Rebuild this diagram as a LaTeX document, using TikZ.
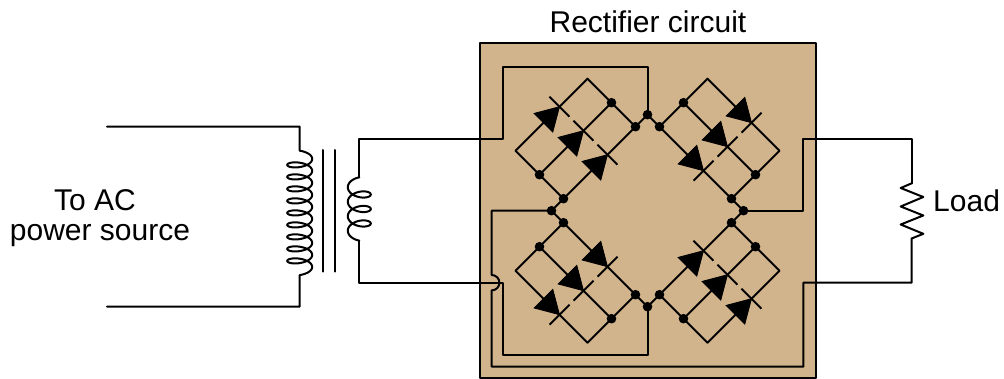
\documentclass[tikz,border=0pt]{standalone}
\usepackage{fontspec}
\setmainfont{Liberation Sans}
\definecolor{boardtan}{HTML}{D2B48C}
\tikzset{
  wire/.style={line width=2pt,line cap=round,line join=round},
  jdot/.style={circle,fill=black,inner sep=0pt,minimum size=9.6pt},
  lbl/.style={font=\fontsize{30}{30}\selectfont,inner sep=0pt}
}
% one set of three parallel diodes: name, start x,y, then the two axes
\newcommand{\diodeset}[7]{%
  \begin{scope}[shift={(#2,#3)},x={(#4pt,#5pt)},y={(#6pt,#7pt)}]
    \node[jdot] (#1a) at (0,0) {};
    \node[jdot] (#1b) at (72,0) {};
    \node[jdot] (#1c) at (0,24) {};
    \node[jdot] (#1d) at (72,24) {};
    \coordinate (#1e) at (0,48);
    \coordinate (#1f) at (72,48);
    \draw[wire] (#1a.center) -- (#1b.center);
    \draw[wire] (#1c.center) -- (#1d.center);
    \draw[wire] (#1e) -- (#1f);
    \draw[wire] (#1a.center) -- (#1e);
    \draw[wire] (#1b.center) -- (#1f);
    \foreach \j in {0,24,48} {%
      \fill[draw=black,line width=0.8pt,line join=miter] (44,\j) -- (28,\j+9.3) -- (28,\j-9.3) -- cycle;
      \draw[wire,line cap=butt] (44,\j-10) -- (44,\j+10);
    }
  \end{scope}
}
\begin{document}
\begin{tikzpicture}[x=1pt,y=-1pt]
  \useasboundingbox (0,0) rectangle (1004,379);
  \draw[wire,fill=boardtan] (479.5,43) rectangle (816,378);
  \node[lbl] (title) at (648,22) {Rectifier circuit};
  \node[lbl,anchor=base] (srclblA) at (95,211) {To AC};
  \node[lbl,anchor=base] (srclblB) at (100,241) {power source};
  \node[lbl,anchor=west] (loadlbl) at (933,201) {Load};
  % the four sets
  \diodeset{tl}{563.5}{198.7}{1}{1}{-1}{1}
  \diodeset{tr}{659.5}{126.7}{1}{-1}{1}{1}
  \diodeset{bl}{563.5}{222.7}{1}{-1}{-1}{-1}
  \diodeset{br}{659.5}{294.7}{1}{1}{1}{-1}
  % outer junctions
  \node[jdot] (top) at (647.5,114.7) {};
  \node[jdot] (left) at (551.5,210.7) {};
  \node[jdot] (right) at (743.5,210.7) {};
  \node[jdot] (bot) at (647.5,306.7) {};
  \draw[wire] (tlb.center) -- (top.center) -- (tra.center);
  \draw[wire] (tla.center) -- (left.center) -- (bla.center);
  \draw[wire] (trb.center) -- (right.center) -- (brb.center);
  \draw[wire] (blb.center) -- (bot.center) -- (bra.center);
  % free ends
  \coordinate (srcA) at (107,126.7);
  \coordinate (srcB) at (107,306.7);
  \coordinate (priA) at (299.7,150.7);
  \coordinate (priB) at (299.7,275.1);
  \coordinate (secA) at (359.3,177.3);
  \coordinate (secB) at (359.3,240.7);
  \coordinate (loadA) at (911.7,183.3);
  \coordinate (loadB) at (911.7,238.5);
  % transformer
  \draw[wire] (srcA) -| (priA)
    plot[domain=-90:3330,samples=420] ({299.7+12.5*cos(\x)},{150.7+(\x+90)/360*12+5.2*(sin(\x)+1)})
    -- (priB) |- (srcB);
  \draw[wire] (323.3,150) -- (323.3,271.7);
  \draw[wire] (335.3,150) -- (335.3,271.7);
  \draw[wire]
    plot[domain=-90:1170,samples=160] ({359.3-11.5*cos(\x)},{177.3+(\x+90)/360*14.5+6.3*(sin(\x)+1)});
  % wiring on the board
  \draw[wire] (secA) -- (359.3,138.7) -| (503.3,66.7) -| (top.center);
  \draw[wire] (secB) -- (359.3,282.7) -| (503.3,354.7) -| (bot.center);
  \draw[wire] (left.center) -| (491.7,275) arc[start angle=90,end angle=-90,radius=7.7pt]
    -- (491.7,366.7) -| (803.3,282.7) -| (loadB);
  \draw[wire] (right.center) -| (803.3,138.7) -| (loadA);
  % load
  \draw[wire] (loadA) -- (900.7,188) -- (923.3,197) -- (900.7,206.5) -- (923.3,215.5)
    -- (900.7,224.5) -- (923.3,233.8) -- (loadB);
\end{tikzpicture}
\end{document}
